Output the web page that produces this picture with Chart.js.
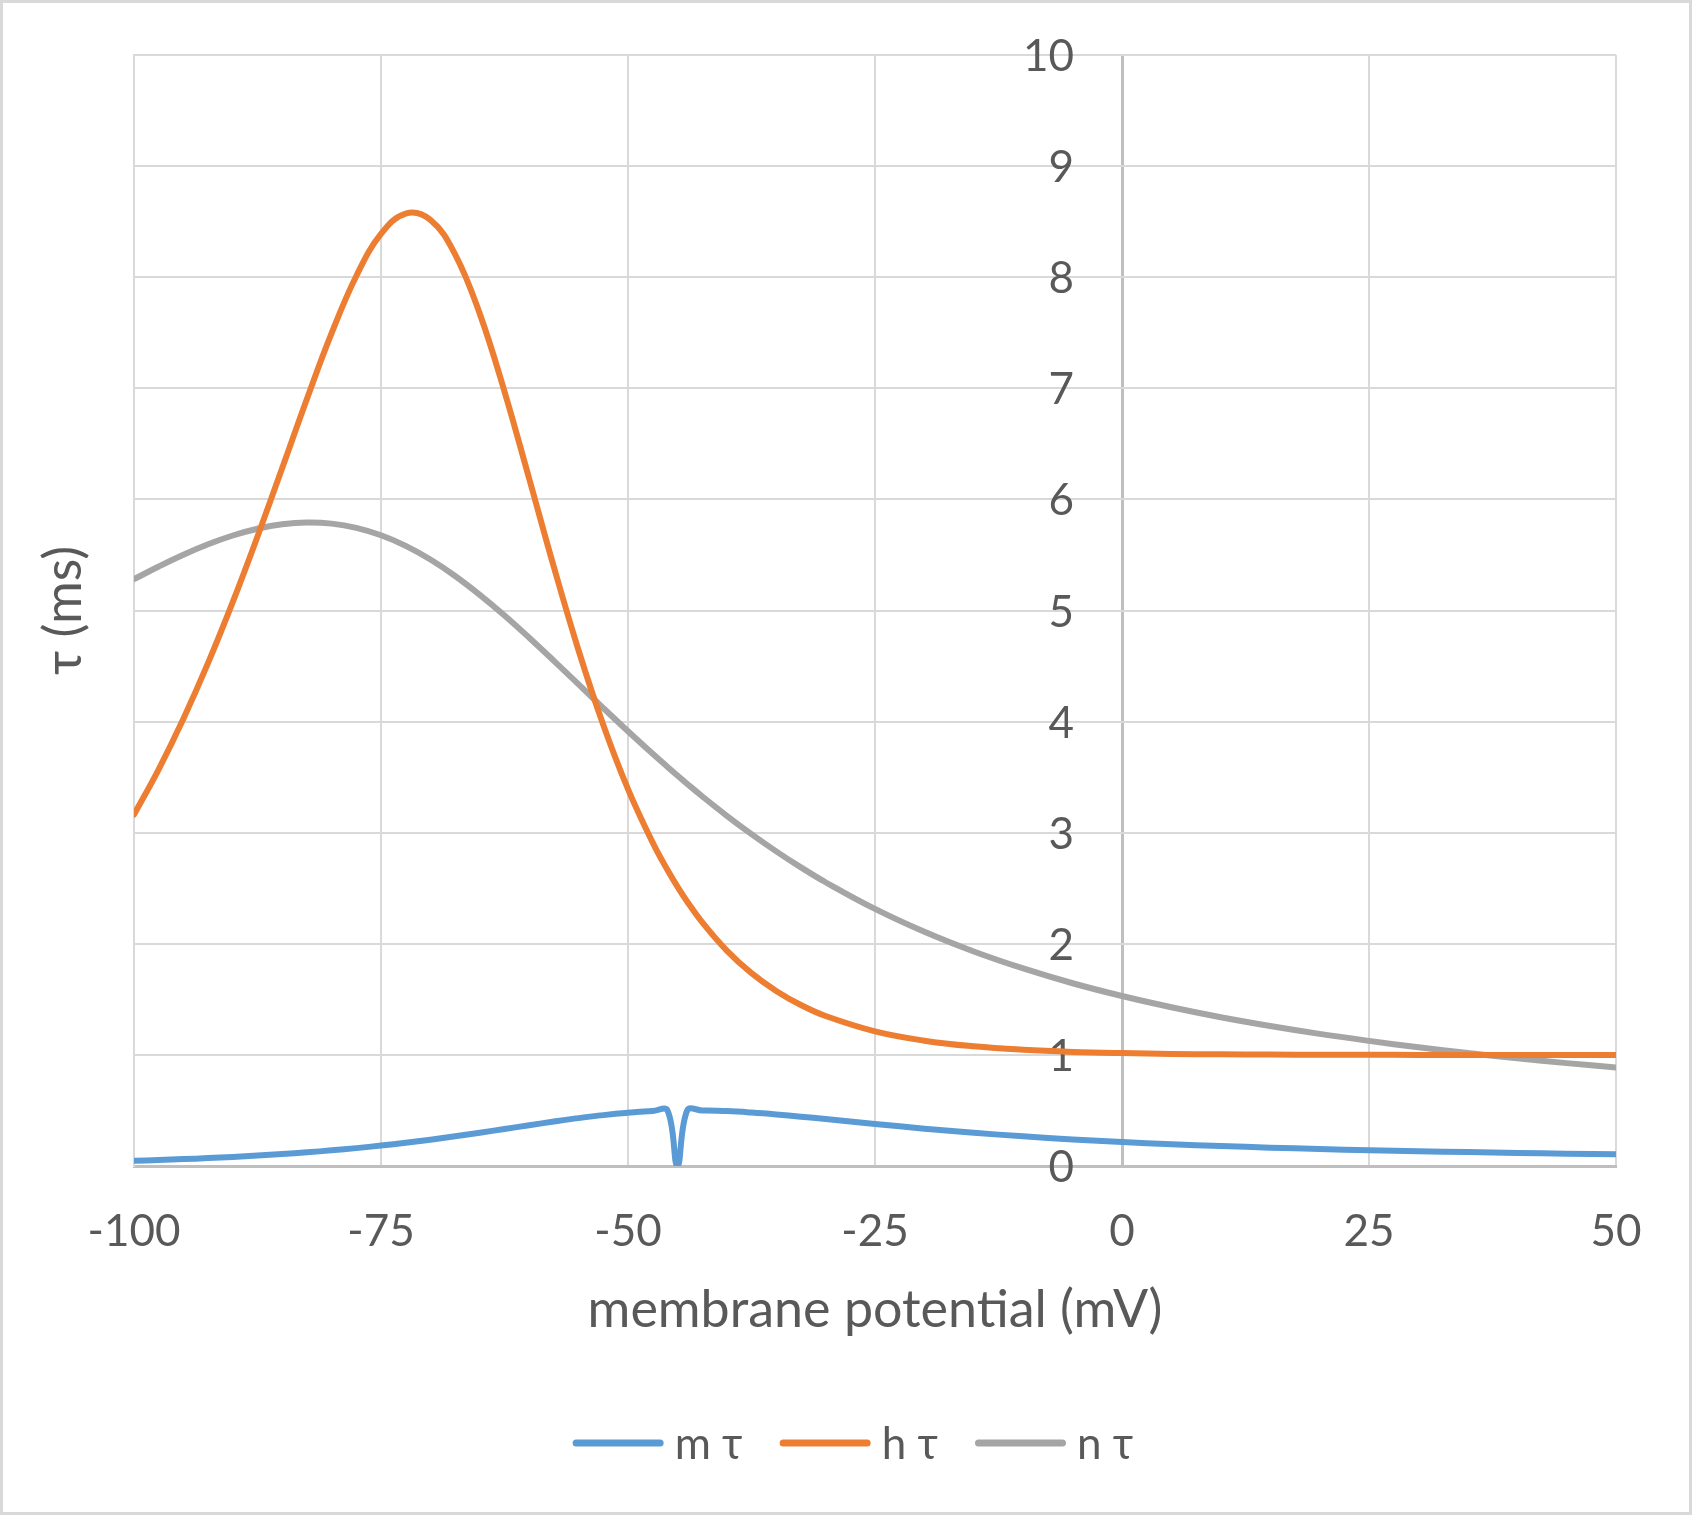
<!DOCTYPE html>
<html><head><meta charset="utf-8">
<script src="https://cdn.jsdelivr.net/npm/chart.js@4.4.0/dist/chart.umd.min.js"></script>
<style>html,body{margin:0;padding:0;background:#fff;}#wrap{width:1692px;height:1515px;position:relative;}</style>
</head><body><div id="wrap"><canvas id="c" width="1692" height="1515"></canvas></div>
<script>
const voltage = [-100,-97.5,-95,-92.5,-90,-87.5,-85,-82.5,-80,-77.5,-75,-72.5,-70,-67.5,-65,-62.5,-60,-57.5,-55,-52.5,-50,-47.5,-46,-45,-44,-42.5,-40,-37.5,-35,-32.5,-30,-25,-20,-15,-10,-5,0,5,10,15,20,25,30,35,40,45,50];
const mTau = [0.047,0.054,0.062,0.071,0.082,0.094,0.108,0.123,0.141,0.161,0.184,0.209,0.237,0.267,0.299,0.333,0.367,0.400,0.431,0.458,0.479,0.494,0.499,0,0.501,0.500,0.494,0.481,0.464,0.444,0.423,0.379,0.336,0.299,0.267,0.239,0.216,0.196,0.180,0.165,0.153,0.142,0.133,0.125,0.118,0.111,0.105];
const hTau = [3.163,3.571,4.026,4.528,5.077,5.666,6.282,6.904,7.496,8.011,8.390,8.573,8.516,8.206,7.670,6.971,6.186,5.390,4.640,3.970,3.393,2.911,2.664,2.515,2.379,2.195,1.939,1.736,1.576,1.449,1.350,1.212,1.128,1.077,1.046,1.027,1.016,1.009,1.005,1.003,1.002,1.001,1.000,1.000,1.000,1.000,1.000];
const nTau = [5.282,5.396,5.502,5.596,5.675,5.736,5.776,5.792,5.782,5.744,5.677,5.582,5.459,5.311,5.141,4.955,4.755,4.547,4.335,4.122,3.913,3.710,3.592,3.515,3.439,3.328,3.152,2.987,2.832,2.688,2.554,2.314,2.108,1.931,1.778,1.645,1.530,1.429,1.339,1.260,1.189,1.126,1.068,1.017,0.969,0.926,0.887];
const xTicks = [-100,-75,-50,-25,0,25,50];
const yTicks = [0,1,2,3,4,5,6,7,8,9,10];
const seriesNames = ['m τ','h τ','n τ'];
const seriesColors = ['#5B9BD5','#ED7D31','#A5A5A5'];
const xTitle = 'membrane potential (mV)';
const yTitle = 'τ (ms)';

const FAMILY = 'Lato, "Open Sans", sans-serif';
const FS = 44;      // tick labels, legend
const FS_T = 52;    // axis titles
const TEXT = '#595959';

function pts(arr){ return voltage.map((v,i)=>({x:v,y:arr[i]})); }

const framePlugin = {
  id:'frame',
  beforeDraw(chart){
    const c = chart.ctx;
    c.save(); c.fillStyle='#fff'; c.fillRect(0,0,chart.width,chart.height); c.restore();
  },
  afterDraw(chart){
    const c = chart.ctx;
    c.save(); c.strokeStyle='#D9D9D9'; c.lineWidth=3;
    c.strokeRect(1.5,1.5,chart.width-3,chart.height-3); c.restore();
  }
};

const yLabelPlugin = {
  id:'yLabels',
  beforeDatasetsDraw(chart){
    const c = chart.ctx, xs = chart.scales.x, ys = chart.scales.y;
    const x0 = xs.getPixelForValue(0) - 48;
    c.save();
    c.font = FS + 'px ' + FAMILY; c.fillStyle = TEXT;
    c.textAlign = 'right'; c.textBaseline = 'alphabetic';
    yTicks.forEach(v=>{ c.fillText(String(v), x0, ys.getPixelForValue(v) + 16); });
    c.restore();
  }
};

const legendPlugin = {
  id:'customLegend',
  afterDraw(chart){
    const c = chart.ctx;
    c.save();
    c.font = FS + 'px ' + FAMILY;
    const lineLen = 91, gap = 11, spacing = 37;
    const widths = seriesNames.map(n=>c.measureText(n).width);
    let total = 0;
    widths.forEach((w,i)=>{ total += lineLen + gap + w + (i < widths.length-1 ? spacing : 0); });
    let x = 853 - total/2;
    const yLine = 1443, yText = 1459;
    seriesNames.forEach((n,i)=>{
      c.strokeStyle = seriesColors[i]; c.lineWidth = 7; c.lineCap = 'round';
      c.beginPath(); c.moveTo(x+3.5, yLine); c.lineTo(x+lineLen-3.5, yLine); c.stroke();
      x += lineLen + gap;
      c.fillStyle = TEXT; c.textAlign='left'; c.textBaseline='alphabetic';
      c.fillText(n, x, yText);
      x += widths[i] + spacing;
    });
    c.restore();
  }
};

new Chart(document.getElementById('c'), {
  type:'line',
  data:{
    datasets:[mTau,hTau,nTau].map((arr,i)=>({
      label: seriesNames[i],
      data: pts(arr),
      borderColor: seriesColors[i],
      backgroundColor: seriesColors[i],
      borderWidth: 6,
      pointRadius: 0,
      fill: false,
      tension: 0.4,
      borderCapStyle: 'round',
      borderJoinStyle: 'round'
    }))
  },
  options:{
    responsive:false,
    animation:false,
    devicePixelRatio:1,
    layout:{padding:{left:0,right:76,top:55,bottom:0}},
    plugins:{legend:{display:false}, tooltip:{enabled:false}},
    scales:{
      x:{
        type:'linear', min:-100, max:50,
        afterBuildTicks(s){ s.ticks = xTicks.map(v=>({value:v})); },
        afterFit(s){ s.height = 1515 - 1166; },
        grid:{ color:c=> (c.tick && c.tick.value===0) ? '#BFBFBF' : '#D9D9D9',
               lineWidth:c=> (c.tick && c.tick.value===0) ? 3 : 2, drawTicks:false },
        border:{ color:'#BFBFBF', width:3 },
        ticks:{ font:{family:FAMILY,size:FS}, color:TEXT, padding:39, maxRotation:0, autoSkip:false },
        title:{ display:true, text:xTitle, font:{family:FAMILY,size:FS_T}, color:TEXT, padding:{top:26,bottom:173.8} }
      },
      y:{
        type:'linear', min:0, max:10, position:'left',
        afterBuildTicks(s){ s.ticks = yTicks.map(v=>({value:v})); },
        afterFit(s){ s.width = 134; },
        grid:{ color:'#D9D9D9', lineWidth:2, drawTicks:false },
        border:{ color:'#D9D9D9', width:2 },
        ticks:{ display:false },
        title:{ display:true, text:yTitle, font:{family:FAMILY,size:FS_T}, color:TEXT, padding:{top:32.8,bottom:40} }
      }
    }
  },
  plugins:[framePlugin, yLabelPlugin, legendPlugin]
});
</script></body></html>
